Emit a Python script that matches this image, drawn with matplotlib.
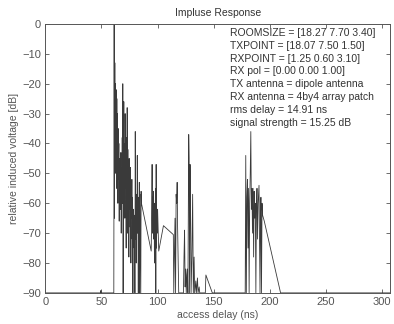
# Impulse response plot (dB vs access delay)
import matplotlib
matplotlib.use('Agg')
import matplotlib.pyplot as plt

plt.rcParams['font.family'] = ['Liberation Sans', 'DejaVu Sans']

# delay [ns] and relative induced voltage [dB]
delay_ns = [
    0, 49.3, 49.5, 49.7, 61.0, 61.3, 61.6, 61.9, 62.2, 62.5, 62.8, 63.1, 63.4, 63.7,
    64.0, 64.3, 64.6, 64.9, 65.2, 65.5, 65.8, 66.1, 66.4, 66.7, 67.0, 67.3, 67.6,
    67.9, 68.2, 68.5, 68.8, 69.0, 69.3, 69.6, 69.9, 70.2, 70.5, 70.8, 71.1, 71.4,
    71.7, 72.0, 72.3, 72.6, 72.9, 73.2, 73.5, 73.8, 74.1, 74.4, 74.7, 75.0, 75.3,
    75.6, 75.9, 76.2, 76.5, 76.8, 77.1, 77.4, 77.7, 78.0, 78.3, 78.6, 78.9, 79.2,
    79.5, 79.8, 80.1, 80.4, 80.7, 81.0, 81.3, 81.6, 81.9, 82.2, 82.5, 82.8, 83.1,
    83.4, 83.7, 84.0, 84.3, 85.0, 85.3, 85.6, 94.3, 94.8, 95.1, 95.4, 95.8, 96.0,
    96.3, 96.6, 96.9, 97.2, 97.5, 97.8, 98.1, 98.4, 98.7, 99.0, 99.3, 99.6, 100.0,
    101.0, 105.2, 114.0, 114.4, 115.5, 116.0, 116.5, 117.0, 117.4, 117.8, 118.8,
    123.0, 123.5, 124.0, 124.5, 125.0, 125.5, 126.0, 126.5, 127.0, 127.7, 128.1,
    128.4, 128.9, 129.3, 129.8, 130.5, 131.2, 131.8, 132.5, 133.0, 134.0, 134.5,
    135.5, 136.0, 137.0, 137.5, 142.5, 143.0, 148.7, 178.0, 178.5, 179.0, 179.5,
    180.0, 180.5, 181.0, 181.5, 182.0, 182.5, 183.0, 183.5, 184.0, 184.5, 185.0,
    185.5, 186.0, 186.5, 187.0, 187.5, 188.0, 188.5, 189.0, 189.5, 190.3, 190.8,
    191.2, 191.6, 192.0, 192.5, 193.0, 193.5, 195.0, 209.5, 307.0,
]
level_db = [
    -90, -90, -89.2, -90, -90, 0, -65, -13, -50, -20, -45, -22, -55, -25,
    -48, -30, -60, -35, -52, -40, -66, -45, -58, -50, -62, -43, -70,
    -48, -55, -38, -60, -20, -90, -45, -26, -60, -40, -65, -30, -55,
    -45, -75, -38, -60, -28, -70, -42, -58, -50, -78, -45, -62, -52,
    -68, -48, -80, -55, -65, -52, -72, -58, -90, -62, -70, -66, -75,
    -64, -90, -36, -72, -60, -80, -57, -68, -44, -70, -62, -90, -58,
    -75, -53, -90, -57, -90, -56, -60, -76, -60, -47, -70, -58, -65,
    -56, -72, -60, -80, -62, -68, -55, -90, -47, -75, -62, -70, -62,
    -76, -67.5, -70.5, -90, -65, -90, -57, -60, -53, -68, -90,
    -90, -78, -69, -88, -82, -90, -84, -82, -90, -37, -45,
    -90, -47, -60, -90, -78, -57, -90, -78, -90, -86, -90,
    -85, -90, -88, -90, -90, -84, -90, -90, -44, -90, -58,
    -52, -75, -55, -90, -60, -50, -36, -62, -55, -70, -55,
    -78, -56, -65, -60, -90, -62, -55, -72, -60, -54, -75,
    -90, -66, -58, -90, -60, -64, -66, -90, -90,
]

info_lines = [
    'ROOMSIZE = [18.27 7.70 3.40]',
    'TXPOINT = [18.07 7.50 1.50]',
    'RXPOINT = [1.25 0.60 3.10]',
    'RX pol = [0.00 0.00 1.00]',
    'TX antenna = dipole antenna',
    'RX antenna = 4by4 array patch',
    'rms delay = 14.91 ns',
    'signal strength = 15.25 dB',
]

x_ticks = [0, 50, 100, 150, 200, 250, 300]
y_ticks = [0, -10, -20, -30, -40, -50, -60, -70, -80, -90]

fig = plt.figure(figsize=(3.94, 3.24), dpi=100)
ax = fig.add_axes([0.115, 0.096, 0.875, 0.83])

ax.plot(delay_ns, level_db, color='#3a3a3a', lw=0.6)

ax.set_xlim(0, 307)
ax.set_ylim(-90, 0)
ax.set_xticks(x_ticks)
ax.set_yticks(y_ticks)
ax.tick_params(direction='in', length=3, width=0.6, top=True, right=True,
               labelsize=8, labelcolor='#555555', color='#555555', pad=3)
for s in ax.spines.values():
    s.set_color('#555555')
    s.set_linewidth(0.7)

ax.set_title('Impluse Response', fontsize=7.5, color='#333333', pad=6)
ax.set_xlabel('access delay (ns)', fontsize=7.5, color='#555555', labelpad=2)
ax.set_ylabel('relative induced voltage [dB]', fontsize=7.5, color='#555555', labelpad=2)

ax.text(0.537, 0.985, '\n'.join(info_lines), transform=ax.transAxes,
        ha='left', va='top', fontsize=7.5, color='#333333', linespacing=1.35)

fig.savefig('out.png', dpi=100)
